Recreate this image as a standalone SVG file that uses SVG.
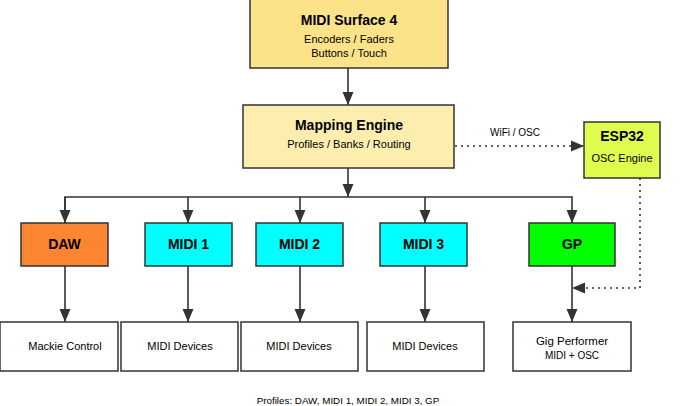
<svg xmlns="http://www.w3.org/2000/svg" width="690" height="406" viewBox="0 0 690 406">
<defs>
<marker id="ah" markerWidth="13" markerHeight="12" viewBox="0 0 13 12" refX="13" refY="6" orient="auto" markerUnits="userSpaceOnUse"><path d="M0,0.5 L13,6 L0,11.5 Z" fill="#333"/></marker>
<style>
.box{stroke:#333;stroke-width:1.5}
.ln{stroke:#333;stroke-width:1.6;fill:none}
.dot{stroke:#333;stroke-width:1.6;fill:none;stroke-dasharray:2 4}
text{font-family:"Liberation Sans",Arial,sans-serif;fill:#000;text-anchor:middle}
.t{font-size:14px;font-weight:bold}
.s{font-size:11px}
</style>
</defs>
<rect width="690" height="406" fill="#fff"/>
<g id="connectors">
<line class="ln" x1="348" y1="68" x2="348" y2="105" marker-end="url(#ah)"/>
<line class="ln" x1="348" y1="168" x2="348" y2="197" marker-end="url(#ah)"/>
<polyline class="ln" points="65,223 65,197 572,197 572,223" marker-end="url(#ah)"/>
<line class="ln" x1="65" y1="197" x2="65" y2="223" marker-end="url(#ah)"/>
<line class="ln" x1="188" y1="197" x2="188" y2="223" marker-end="url(#ah)"/>
<line class="ln" x1="300" y1="197" x2="300" y2="223" marker-end="url(#ah)"/>
<line class="ln" x1="425" y1="197" x2="425" y2="223" marker-end="url(#ah)"/>
<line class="ln" x1="65" y1="266" x2="65" y2="322" marker-end="url(#ah)"/>
<line class="ln" x1="188" y1="266" x2="188" y2="322" marker-end="url(#ah)"/>
<line class="ln" x1="300" y1="266" x2="300" y2="322" marker-end="url(#ah)"/>
<line class="ln" x1="425" y1="266" x2="425" y2="322" marker-end="url(#ah)"/>
<line class="ln" x1="572" y1="266" x2="572" y2="322" marker-end="url(#ah)"/>
<line class="dot" x1="455" y1="146" x2="584" y2="146" marker-end="url(#ah)"/>
<text class="s" x="515" y="136" style="font-size:10px">WiFi / OSC</text>
<polyline class="dot" points="640,178 640,288 572,288" marker-end="url(#ah)"/>
</g>
<g id="surface">
<rect class="box" x="250" y="-1" width="198" height="69" fill="#fce38a"/>
<text class="t" x="349" y="25">MIDI Surface 4</text>
<text class="s" x="349" y="43">Encoders / Faders</text>
<text class="s" x="349" y="57">Buttons / Touch</text>
</g>
<g id="mapping">
<rect class="box" x="243" y="105" width="211" height="63" fill="#fdeeb0"/>
<text class="t" x="349" y="130">Mapping Engine</text>
<text class="s" x="349" y="148">Profiles / Banks / Routing</text>
</g>
<g id="esp32">
<rect class="box" x="584" y="122" width="76" height="56" fill="#dffc4f"/>
<text class="t" x="622" y="141">ESP32</text>
<text class="s" x="622" y="162">OSC Engine</text>
</g>
<g id="daw"><rect class="box" x="21" y="223" width="87" height="43" fill="#fb8530"/><text class="t" x="64.5" y="249">DAW</text></g>
<g id="midi1"><rect class="box" x="145" y="223" width="87" height="43" fill="#00ffff"/><text class="t" x="188.5" y="249">MIDI 1</text></g>
<g id="midi2"><rect class="box" x="256" y="223" width="87" height="43" fill="#00ffff"/><text class="t" x="299.5" y="249">MIDI 2</text></g>
<g id="midi3"><rect class="box" x="380" y="223" width="87" height="43" fill="#00ffff"/><text class="t" x="423.5" y="249">MIDI 3</text></g>
<g id="gp"><rect class="box" x="529" y="223" width="86" height="43" fill="#00ff00"/><text class="t" x="572" y="249">GP</text></g>
<g id="mackie"><rect class="box" x="0" y="322" width="118" height="49" fill="#fff"/><text class="s" x="65" y="350">Mackie Control</text></g>
<g id="dev1"><rect class="box" x="121" y="322" width="117" height="49" fill="#fff"/><text class="s" x="180" y="350">MIDI Devices</text></g>
<g id="dev2"><rect class="box" x="241" y="322" width="117" height="49" fill="#fff"/><text class="s" x="299" y="350">MIDI Devices</text></g>
<g id="dev3"><rect class="box" x="367" y="322" width="117" height="49" fill="#fff"/><text class="s" x="425" y="350">MIDI Devices</text></g>
<g id="gigperf"><rect class="box" x="513" y="322" width="118" height="49" fill="#fff"/><text class="s" x="572" y="345" style="font-size:11.5px">Gig Performer</text><text class="s" x="572" y="359" style="font-size:10px">MIDI + OSC</text></g>
<text class="s" x="348" y="404" style="font-size:9.8px">Profiles: DAW, MIDI 1, MIDI 2, MIDI 3, GP</text>
</svg>
